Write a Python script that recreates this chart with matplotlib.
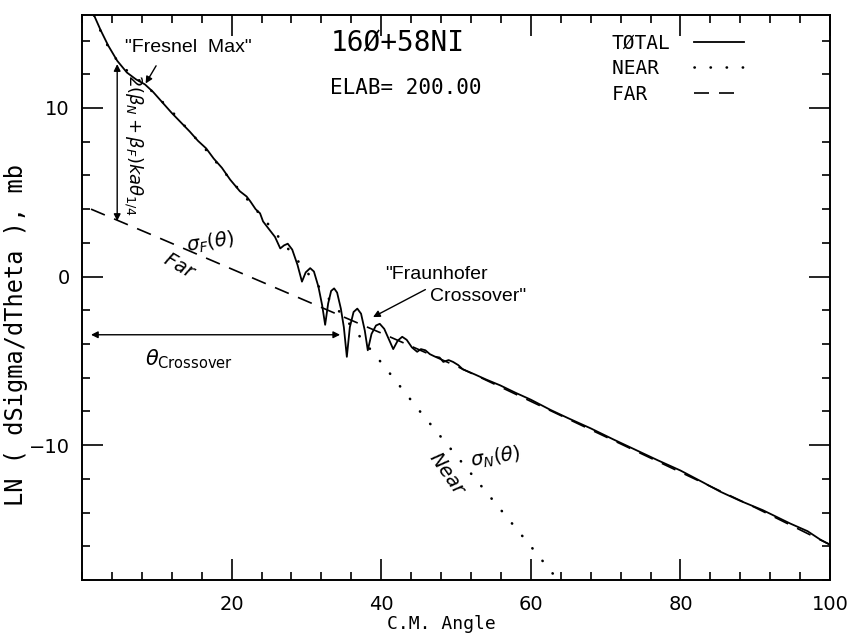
#! /usr/bin/env python3
# -*- Coding: UTF-8 -*-

import numpy as np
import matplotlib.pyplot as plt
from matplotlib.ticker import MultipleLocator

# total cross section, ln(dsigma/dtheta) vs c.m. angle
theta_total = [1.0, 1.6, 2.5, 3.5, 4.7, 6.0, 7.2, 8.4, 9.5, 10.6, 12.0, 13.2, 14.4,
               15.5, 16.6, 17.6, 18.7, 19.8, 21.1, 22.0, 22.5, 23.2, 23.8, 24.2,
               25.1, 25.8, 26.5, 27.0, 27.5, 28.1, 28.8, 29.4, 29.9, 30.5, 31.0,
               31.6, 32.1, 32.5, 32.9, 33.3, 33.7, 34.1, 34.6, 35.0, 35.4, 35.8,
               36.3, 36.8, 37.3, 37.8, 38.2, 38.7, 39.3, 39.8, 40.4, 41.0, 41.6,
               42.2, 42.8, 43.4, 44.1, 44.8, 45.3, 45.9, 46.5, 47.2, 47.8, 48.3,
               49.0, 49.6, 50.3, 50.9, 52.5, 54.0, 55.9, 58.0, 60.0, 62.6, 65.0,
               68.0, 71.0, 74.6, 77.0, 80.0, 83.0, 85.3, 88.0, 91.0, 94.7, 97.0,
               98.7, 100.0]
ln_total = [16.4, 15.5, 14.6, 13.7, 12.8, 12.1, 11.7, 11.4, 10.95, 10.4, 9.7, 9.15, 8.6,
            8.05, 7.6, 7.0, 6.45, 5.75, 5.06, 4.75, 4.46, 4.0, 3.75, 3.27,
            2.75, 2.35, 1.67, 1.85, 1.95, 1.6, 0.7, -0.3, 0.25, 0.5, 0.3,
            -0.6, -1.7, -2.86, -1.6, -0.85, -0.7, -0.95, -1.9, -3.0, -4.76, -3.0,
            -2.1, -1.9, -2.2, -3.2, -4.37, -3.4, -2.9, -2.8, -3.1, -3.7, -4.3,
            -3.8, -3.57, -3.75, -4.2, -4.46, -4.3, -4.37, -4.6, -4.75, -4.8, -5.06,
            -4.95, -5.06, -5.25, -5.5, -5.8, -6.1, -6.45, -6.9, -7.3, -7.9, -8.4,
            -9.0, -9.65, -10.4, -10.9, -11.5, -12.2, -12.75, -13.3, -13.85, -14.65, -15.1,
            -15.6, -15.9]

# near-side component
theta_near = [1.0, 1.6, 3.0, 4.7, 6.5, 8.4, 10.0, 12.0, 14.4, 17.0, 19.0, 21.1,
              23.0, 25.0, 30.0, 35.0, 40.0, 45.0, 50.0, 55.0, 60.0, 64.0, 65.0]
ln_near = [16.4, 15.5, 14.0, 12.8, 12.0, 11.4, 10.7, 9.8, 8.6, 7.3, 6.2, 5.1,
           4.1, 3.05, 0.3, -2.4, -5.1, -7.9, -10.6, -13.3, -16.0, -18.2, -18.8]

# far-side component
theta_far = [1.2, 10.0, 20.0, 30.0, 40.0, 50.0, 60.0, 70.0, 80.0, 90.0, 100.0]
ln_far = [4.0, 2.35, 0.45, -1.45, -3.35, -5.3, -7.4, -9.5, -11.6, -13.7, -15.9]

# legend labels padded to equal width so the mono text lines up on the left
legend_labels = [u"T\u00d8TAL", "NEAR ", "FAR  "]

plt.rcParams["font.family"] = "DejaVu Sans"
mono = "DejaVu Sans Mono"
ann = "Liberation Sans"

fig = plt.figure(figsize=(8.51, 6.34), dpi=100)
ax = fig.add_axes([0.0964, 0.085, 0.879, 0.891])

ax.plot(theta_total, ln_total, color="black", lw=1.3, label=legend_labels[0])
ax.plot(theta_near, ln_near, color="black", lw=1.9, linestyle=(0, (0.1, 6)),
        dash_capstyle="round", label=legend_labels[1])
ax.plot(theta_far, ln_far, color="black", lw=1.2, linestyle=(0, (9, 6)),
        label=legend_labels[2])

ax.set_xlim(0, 100)
ax.set_ylim(-18, 15.5)
ax.set_xticks([20, 40, 60, 80, 100])
ax.xaxis.set_minor_locator(MultipleLocator(4))
ax.set_yticks([-10, 0, 10])
ax.yaxis.set_minor_locator(MultipleLocator(2))
ax.tick_params(which="both", direction="in", top=True, right=True, labelsize=14)
ax.tick_params(which="major", length=15, width=1.2)
ax.tick_params(which="minor", length=6, width=1.2)
ax.tick_params(axis="y", pad=9)
ax.tick_params(axis="x", pad=11)
for s in ax.spines.values():
    s.set_linewidth(1.4)

ax.set_xlabel("C.M. Angle", family=mono, fontsize=13)
ax.xaxis.set_label_coords(0.481, -0.062)
ax.set_ylabel("LN ( dSigma/dTheta ), mb", family=mono, fontsize=17)
ax.yaxis.set_label_coords(-0.072, 0.434)

leg = ax.legend(loc="upper left", bbox_to_anchor=(0.695, 0.985), frameon=False,
                markerfirst=False, handlelength=2.6, handletextpad=1.2,
                labelspacing=0.35, borderpad=0, prop={"family": mono, "size": 14})

ax.text(33.2, 13.8, u"16\u00d8+58NI", family=mono, fontsize=20, va="center", ha="left")
ax.text(33.2, 11.2, "ELAB= 200.00", family=mono, fontsize=15, va="center", ha="left")

# Fresnel maximum
ax.text(5.7, 13.6, '"Fresnel  Max"', family=ann, fontsize=14, va="center", ha="left")
ax.annotate("", xy=(8.5, 11.45), xytext=(9.9, 12.5),
            arrowprops=dict(arrowstyle="-|>", color="black", lw=1.0,
                            mutation_scale=10, shrinkA=0, shrinkB=0))
ax.annotate("", xy=(4.7, 12.6), xytext=(4.7, 3.3),
            arrowprops=dict(arrowstyle="<|-|>", color="black", lw=1.0,
                            mutation_scale=10, shrinkA=0, shrinkB=0))
ax.text(6.8, 7.8, r"$2(\beta_N+\beta_F)ka\theta_{1/4}$", fontsize=13,
        rotation=-90, va="center", ha="center")

# far / near labels
ax.text(17.1, 2.0, r"$\sigma_F(\theta)$", fontsize=14, rotation=8, va="center", ha="center")
ax.text(13.1, 0.6, r"$Far$", fontsize=14, rotation=-30, va="center", ha="center")
ax.text(48.9, -11.7, r"$Near$", fontsize=14, rotation=-55, va="center", ha="center")
ax.text(55.3, -10.7, r"$\sigma_N(\theta)$", fontsize=14, rotation=8, va="center", ha="center")

# Fraunhofer crossover
ax.text(40.5, 0.12, '"Fraunhofer', family=ann, fontsize=14, va="center", ha="left")
ax.text(46.5, -1.2, 'Crossover"', family=ann, fontsize=14, va="center", ha="left")
ax.annotate("", xy=(38.9, -2.4), xytext=(45.9, -0.77),
            arrowprops=dict(arrowstyle="-|>", color="black", lw=1.0,
                            mutation_scale=10, shrinkA=0, shrinkB=0))
ax.annotate("", xy=(1.2, -3.45), xytext=(34.5, -3.45),
            arrowprops=dict(arrowstyle="<|-|>", color="black", lw=1.0,
                            mutation_scale=10, shrinkA=0, shrinkB=0))
ax.text(14.3, -4.9, r"$\theta_{\rm Crossover}$", fontsize=15, va="center", ha="center")

fig.savefig("out.png", dpi=100)
